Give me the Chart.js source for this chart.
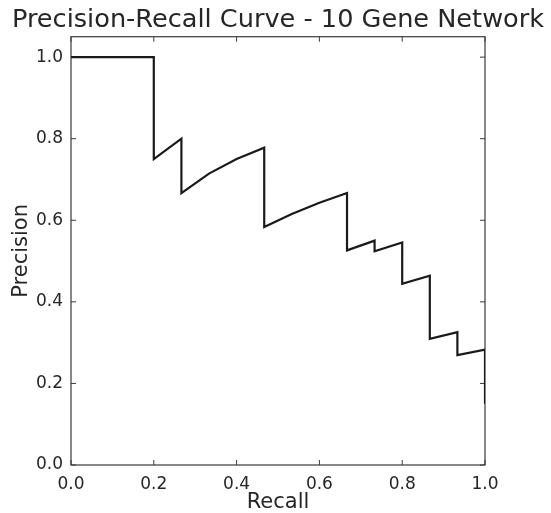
<!DOCTYPE html>
<html>
<head>
<meta charset="utf-8">
<script src="https://cdn.jsdelivr.net/npm/chart.js@4.4.1/dist/chart.umd.min.js"></script>
<style>
  html, body { margin: 0; padding: 0; background: #ffffff; }
  #wrap { width: 551px; height: 513px; }
</style>
</head>
<body>
<div id="wrap"><canvas id="c" width="551" height="513"></canvas></div>
<script>
// ---- Data ----
const titleText = "Precision-Recall Curve - 10 Gene Network";
const xLabel = "Recall";
const yLabel = "Precision";
const recall = [0.0, 0.2, 0.2, 0.2667, 0.2667, 0.3333, 0.4, 0.4667, 0.4667, 0.5333, 0.6, 0.6667, 0.6667,
                0.7333, 0.7333, 0.8, 0.8, 0.8667, 0.8667, 0.9333, 0.9333, 1.0, 1.0];
const precision = [1.0, 1.0, 0.75, 0.8, 0.6667, 0.7143, 0.75, 0.7778, 0.5833, 0.6154, 0.6429, 0.6667, 0.5263,
                   0.55, 0.5238, 0.5455, 0.4444, 0.4643, 0.3095, 0.3256, 0.2692, 0.2830, 0.15];
const tickValues = [0.0, 0.2, 0.4, 0.6, 0.8, 1.0];
const xRange = [0, 1];
const yRange = [0, 1.05];

const points = recall.map((r, i) => ({ x: r, y: precision[i] }));

const TEXT = '#262626';
const SPINE = '#3a3a3a';

Chart.defaults.font.family = "'DejaVu Sans', sans-serif";
Chart.defaults.color = TEXT;

const keepTicks = s => { s.ticks = tickValues.map(v => ({ value: v })); };

const framePlugin = {
  id: 'frame',
  beforeDatasetsDraw(chart) {
    const { ctx, chartArea: a, scales } = chart;
    ctx.save();
    ctx.strokeStyle = SPINE;
    ctx.lineWidth = 1.2;
    ctx.strokeRect(a.left, a.top, a.right - a.left, a.bottom - a.top);
    const tl = 5;
    ctx.beginPath();
    tickValues.forEach(v => {
      const px = scales.x.getPixelForValue(v);
      ctx.moveTo(px, a.bottom); ctx.lineTo(px, a.bottom - tl);
      ctx.moveTo(px, a.top); ctx.lineTo(px, a.top + tl);
      const py = scales.y.getPixelForValue(v);
      ctx.moveTo(a.left, py); ctx.lineTo(a.left + tl, py);
      ctx.moveTo(a.right, py); ctx.lineTo(a.right - tl, py);
    });
    ctx.lineWidth = 1;
    ctx.stroke();
    ctx.restore();
  }
};

new Chart(document.getElementById('c'), {
  type: 'line',
  data: {
    datasets: [{
      data: points,
      borderColor: '#1a1a1a',
      borderWidth: 2.2,
      pointRadius: 0,
      tension: 0,
      fill: false
    }]
  },
  options: {
    responsive: false,
    devicePixelRatio: 1,
    animation: false,
    layout: { padding: { left: 5, right: 0, top: 0, bottom: 0 } },
    plugins: {
      legend: { display: false },
      tooltip: { enabled: false },
      title: {
        display: true,
        text: titleText,
        color: TEXT,
        font: { size: 25.6, weight: 'normal' },
        padding: { top: 5, bottom: 1 }
      }
    },
    scales: {
      x: {
        type: 'linear',
        min: xRange[0], max: xRange[1],
        grid: { display: false, drawTicks: false },
        border: { display: false },
        ticks: {
          padding: 9, color: TEXT,
          font: { size: 17 },
          maxRotation: 0,
          callback: v => Number(v).toFixed(1)
        },
        afterBuildTicks: keepTicks,
        title: { display: true, text: xLabel, color: TEXT, font: { size: 21 }, padding: { top: 0, bottom: -2 } },
        afterFit: s => { s.height = 48; }
      },
      y: {
        type: 'linear',
        min: yRange[0], max: yRange[1],
        grid: { display: false, drawTicks: false },
        border: { display: false },
        ticks: {
          padding: 8, color: TEXT,
          font: { size: 17 },
          callback: v => Number(v).toFixed(1)
        },
        afterBuildTicks: keepTicks,
        title: { display: true, text: yLabel, color: TEXT, font: { size: 21 }, padding: { top: 4, bottom: 0 } },
        afterFit: s => { s.width = 66; }
      },
      yRight: {
        type: 'linear',
        position: 'right',
        min: yRange[0], max: yRange[1],
        grid: { display: false, drawTicks: false },
        border: { display: false },
        ticks: { display: false },
        afterFit: s => { s.width = 66; }
      }
    }
  },
  plugins: [framePlugin]
});
</script>
</body>
</html>
